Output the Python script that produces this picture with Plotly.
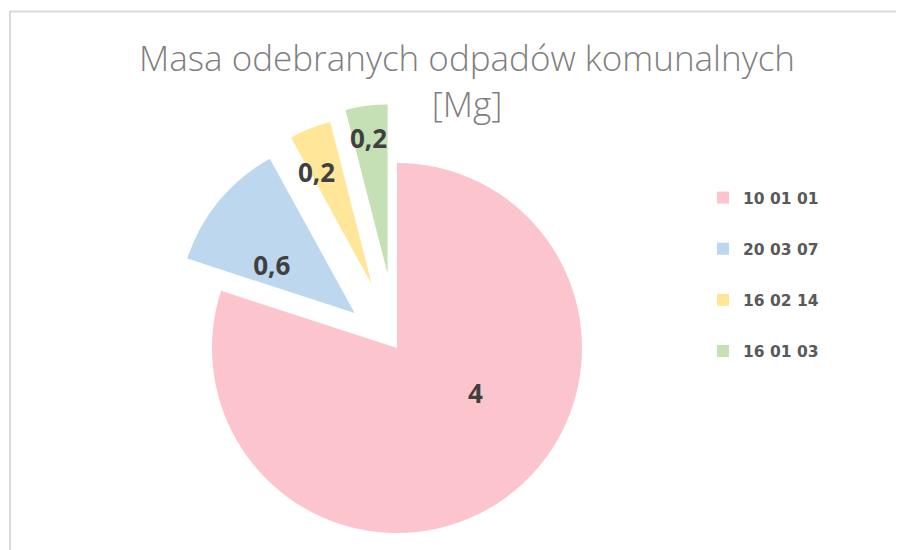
import numpy as np
import plotly.graph_objects as go

# the page puts the plot 8px in from the top-left corner
OX, OY = 8, 8
W, H = 904 - OX, 550 - OY

labels = ["10 01 01", "20 03 07", "16 02 14", "16 01 03"]
values = [4, 0.6, 0.2, 0.2]
colors = ["#FCC5CE", "#BDD7EE", "#FFE699", "#C5E0B4"]

# explosion of each slice in px (Excel "point explosion") and drawn radius
explode = [0, 55, 68, 75]
radius = [185, 176, 168, 169]
CX, CY = 397, 348  # pie centre in page px

# data label placement: extra rotation (deg) and radius of the label-only pies
label_rot = [-24.2, -9.5, -4.6, -0.8]
label_r = [181, 131, 141, 154]


def dom(cx, cy, r):
    x, y = cx - OX, cy - OY
    return dict(x=[(x - r) / W, (x + r) / W], y=[(H - y - r) / H, (H - y + r) / H])


vals = np.array(values, dtype=float)
mid = (np.cumsum(vals) - vals / 2) / vals.sum() * 2 * np.pi
texts = [f"{v:g}".replace(".", ",") for v in values]
clear = "rgba(0,0,0,0)"

fig = go.Figure()

# legend-only traces (tiny, hidden under the main pie) so the legend gets its spacing
for i, lab in enumerate(labels):
    fig.add_trace(go.Pie(
        labels=[lab], values=[values[i]],
        marker=dict(colors=[colors[i]]),
        textinfo="none", hoverinfo="skip",
        legendgroup=lab, showlegend=True,
        domain=dom(CX, CY, 0.3),
    ))

# one trace per slice, each drawn around its own (exploded) centre
apex = []
for i, lab in enumerate(labels):
    cx = CX + explode[i] * np.sin(mid[i])
    cy = CY - explode[i] * np.cos(mid[i])
    apex.append((cx, cy))
    cols = [colors[j] if j == i else clear for j in range(len(labels))]
    fig.add_trace(go.Pie(
        labels=labels, values=values,
        sort=False, direction="clockwise", rotation=0,
        marker=dict(colors=cols, line=dict(width=0)),
        textinfo="none",
        showlegend=False, hoverinfo="label+value",
        domain=dom(cx, cy, radius[i]),
    ))

# data labels
for i, lab in enumerate(labels):
    cx, cy = apex[i]
    txt = [texts[j] if j == i else "" for j in range(len(labels))]
    fig.add_trace(go.Pie(
        labels=labels, values=values,
        sort=False, direction="clockwise", rotation=label_rot[i],
        marker=dict(colors=[clear] * len(labels), line=dict(width=0)),
        text=txt, textinfo="text",
        textposition="inside", insidetextorientation="horizontal",
        textfont=dict(family="Open Sans", size=26, color="#404040", weight="bold"),
        showlegend=False, hoverinfo="skip",
        domain=dom(cx, cy, label_r[i]),
    ))

fig.update_layout(
    width=W, height=H,
    margin=dict(l=0, r=0, t=0, b=0),
    paper_bgcolor="white",
    title=dict(
        text="Masa odebranych odpadów komunalnych<br>[Mg]",
        font=dict(family="Open Sans", size=35, color="#7F7F7F", weight=300),
        x=(467 - OX) / W, xanchor="center",
        y=1 - 63 / H, yanchor="top",
    ),
    legend=dict(
        x=(703 - OX) / W, y=1 - (181 - OY) / H, xanchor="left", yanchor="top",
        font=dict(family="DejaVu Sans", size=15.5, color="#595959", weight="bold"),
        traceorder="grouped", tracegroupgap=28,
        itemwidth=30,
    ),
    uniformtext=dict(minsize=26, mode="show"),
    shapes=[dict(type="rect", xref="paper", yref="paper",
                 x0=(10 - OX) / W, x1=1.1, y0=-0.1, y1=1 - (11.5 - OY) / H,
                 line=dict(color="#D9D9D9", width=2), layer="below")],
)

fig.write_html("out.html")
